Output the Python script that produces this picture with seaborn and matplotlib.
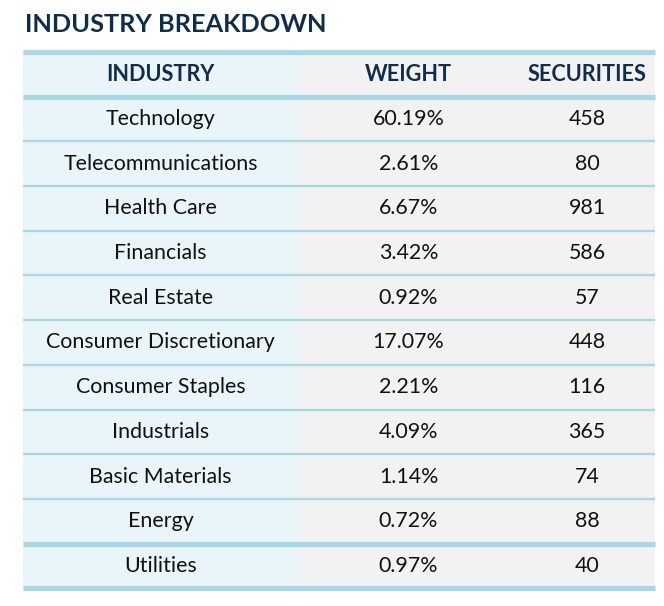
import numpy as np
import pandas as pd
import matplotlib
matplotlib.use('Agg')
import matplotlib.pyplot as plt
from matplotlib.colors import ListedColormap
import seaborn as sns

# Dados da tabela
titulo = 'INDUSTRY BREAKDOWN'
cabecalho = ['INDUSTRY', 'WEIGHT', 'SECURITIES']
setores = ['Technology', 'Telecommunications', 'Health Care', 'Financials',
           'Real Estate', 'Consumer Discretionary', 'Consumer Staples',
           'Industrials', 'Basic Materials', 'Energy', 'Utilities']
pesos = [60.19, 2.61, 6.67, 3.42, 0.92, 17.07, 2.21, 4.09, 1.14, 0.72, 0.97]
titulos_qtd = [458, 80, 981, 586, 57, 448, 116, 365, 74, 88, 40]

Base = pd.DataFrame({
    'INDUSTRY': setores,
    'WEIGHT': ['%.2f%%' % p for p in pesos],
    'SECURITIES': [str(q) for q in titulos_qtd],
})

sns.set_theme(style='white')
plt.rcParams['font.family'] = ['Lato', 'DejaVu Sans']

AZUL_FUNDO = '#eaf5f9'
CINZA_FUNDO = '#f2f2f2'
LINHA = '#a9d7e4'
NAVY = '#102d4a'

W, H = 664, 606
fig = plt.figure(figsize=(W / 100, H / 100), dpi=100)
fig.patch.set_facecolor('white')

# posicoes em pixels
x_bordas = [23, 298, 519, 655]
y_topo, y_base = 51.95, 588.35
n_linhas = len(setores) + 1

fig.text(25 / W, 1 - 25 / H, titulo, color=NAVY, fontsize=18.3,
         fontweight='bold', ha='left', va='center')

fundos = [AZUL_FUNDO, CINZA_FUNDO, CINZA_FUNDO]
for i, col in enumerate(cabecalho):
    x0, x1 = x_bordas[i], x_bordas[i + 1]
    ax = fig.add_axes([x0 / W, 1 - y_base / H, (x1 - x0) / W, (y_base - y_topo) / H])
    textos = np.array([[col]] + [[v] for v in Base[col]])
    matriz = np.zeros((n_linhas, 1))
    sns.heatmap(matriz, ax=ax, cmap=ListedColormap([fundos[i]]), cbar=False,
                annot=textos, fmt='', xticklabels=False, yticklabels=False,
                annot_kws={'fontsize': 15.4, 'color': '#111111'})
    for t in ax.texts:
        if t.get_text() == col:
            t.set_fontweight('bold')
            t.set_color(NAVY)
            t.set_fontsize(15.6)
    for s in ax.spines.values():
        s.set_visible(False)

# linhas separadoras (na ultima coluna, estendidas ate a borda esquerda)
x_ini = (x_bordas[0] - x_bordas[2]) / (x_bordas[3] - x_bordas[2])
for y in range(n_linhas + 1):
    grossa = y in (0, 1, n_linhas - 1, n_linhas)
    ax.axhline(y, xmin=x_ini, xmax=1, color=LINHA, lw=3.8 if grossa else 1.6,
               clip_on=False, solid_capstyle='butt')

fig.savefig('out.png', dpi=100)
